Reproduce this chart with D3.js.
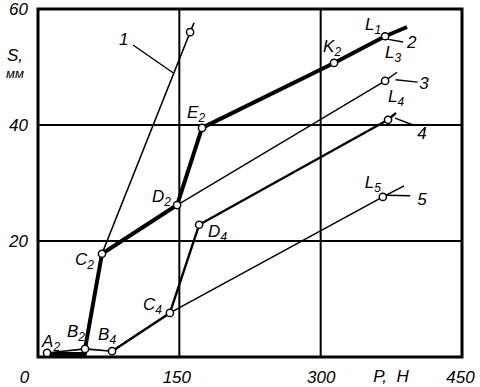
<!DOCTYPE html>
<html>
<head>
<meta charset="utf-8">
<script src="https://cdn.jsdelivr.net/npm/d3@7"></script>
<style>
  body { margin: 0; background: #fff; }
  text { font-family: "Liberation Sans", Arial, sans-serif; font-style: italic; fill: #000; }
</style>
</head>
<body>
<svg id="chart" width="480" height="387"></svg>
<script>
// axis ticks
const xTicks = [0, 150, 300, 450]
const yTicks = [0, 20, 40, 60]

// curves: [P (H), S (mm)]
const curve1 = [[9.6, 0.7], [49.9, 1.4], [67.9, 17.8], [161.4, 56.0], [165.6, 57.6]]
const curve2 = [[9.6, 0.5], [49.9, 0.5], [49.9, 1.4], [67.9, 17.8], [147.6, 26.2], [174.1, 39.5], [314.2, 50.7], [368.4, 55.3], [391.7, 56.9]]
const curve3 = [[67.9, 17.8], [147.6, 26.2], [368.4, 47.6], [381.0, 49.1]]
const curve4 = [[78.6, 1.0], [140.0, 7.6], [171.0, 22.8], [371.5, 40.9], [380.0, 42.1]]
const curve5 = [[49.9, 1.4], [78.6, 1.0], [140.0, 7.6], [366.0, 27.6], [388.5, 29.5]]

// marked points
const markP = [9.6, 49.9, 67.9, 147.6, 174.1, 314.2, 368.4, 161.4, 368.4, 78.6, 140.0, 171.0, 371.5, 366.0]
const markS = [0.7, 1.4, 17.8, 26.2, 39.5, 50.7, 55.3, 56.0, 47.6, 1.0, 7.6, 22.8, 40.9, 27.6]
const markName = ['A', 'B', 'C', 'D', 'E', 'K', 'L', '', 'L', 'B', 'C', 'D', 'L', 'L']
const markSub = ['2', '2', '2', '2', '2', '2', '1', '', '3', '4', '4', '4', '4', '5']
// label offsets from the marker, px
const markDx = [-5, -18, -27, -25, -15, -11, -20, 0, 0, -14, -27, 9, 0, -18]
const markDy = [-6, -12, 11, -3, -10, -11, -6, 0, -23, -11, -3, 12, -18, -9]

// curve numbers with leader lines: [P, S] of text, leader start, leader end
const curveNames = ['1', '2', '3', '4', '5']
const namePos = [[86.0, 53.8], [391.7, 53.3], [404.5, 46.2], [402.5, 37.6], [402.5, 26.2]]
const leaderFrom = [[100.8, 53.8], [387.5, 54.3], [402.9, 47.4], [398.1, 40.0], [395.0, 27.8]]
const leaderTo = [[143.3, 49.0], [370.5, 54.8], [379.6, 47.8], [379.0, 41.2], [370.5, 27.9]]

const svg = d3.select('#chart')
const x = d3.scaleLinear().domain([0, 450]).range([38, 462])
const y = d3.scaleLinear().domain([0, 60]).range([357, 9])

// grid
svg.append('g')
  .selectAll('line.gx')
  .data(xTicks.slice(1, -1))
  .join('line')
  .attr('x1', d => x(d)).attr('x2', d => x(d))
  .attr('y1', y(0)).attr('y2', y(60))
  .attr('stroke', '#000').attr('stroke-width', 2)

svg.append('g')
  .selectAll('line.gy')
  .data(yTicks.slice(1, -1))
  .join('line')
  .attr('y1', d => y(d)).attr('y2', d => y(d))
  .attr('x1', x(0)).attr('x2', x(450))
  .attr('stroke', '#000').attr('stroke-width', 2)

// frame
svg.append('rect')
  .attr('x', x(0)).attr('y', y(60))
  .attr('width', x(450) - x(0)).attr('height', y(0) - y(60))
  .attr('fill', 'none').attr('stroke', '#000').attr('stroke-width', 3)

// tick labels
const xAxis = svg.append('g')
  .attr('transform', `translate(0,${y(0)})`)
  .call(d3.axisBottom(x).tickValues(xTicks).tickSize(0).tickPadding(14).tickFormat(d3.format('d')))
xAxis.select('.domain').remove()
xAxis.selectAll('text')
  .attr('font-size', 17).attr('font-family', null)
  .attr('dx', d => d === 0 ? -14 : (d === 150 ? -3 : (d === 450 ? -2 : 0)))

const yAxis = svg.append('g')
  .attr('transform', `translate(${x(0)},0)`)
  .call(d3.axisLeft(y).tickValues(yTicks.slice(1)).tickSize(0).tickPadding(10).tickFormat(d3.format('d')))
yAxis.select('.domain').remove()
yAxis.selectAll('text').attr('font-size', 17).attr('font-family', null)

// axis titles
svg.append('text').attr('x', 391).attr('y', 382).attr('text-anchor', 'middle')
  .attr('font-size', 17).attr('xml:space', 'preserve').text('P,  H')
svg.append('text').attr('x', 15).attr('y', 61).attr('text-anchor', 'middle')
  .attr('font-size', 17).text('S,')
svg.append('text').attr('x', 15).attr('y', 78).attr('text-anchor', 'middle')
  .attr('font-size', 13).text('мм')

// curves
const line = d3.line().x(d => x(d[0])).y(d => y(d[1]))
const curves = [
  { data: curve1, w: 1.6 },
  { data: curve3, w: 1.4 },
  { data: curve5, w: 1.6 },
  { data: curve4, w: 2.4 },
  { data: curve2, w: 4 },
]
svg.append('g')
  .selectAll('path')
  .data(curves)
  .join('path')
  .attr('d', d => line(d.data))
  .attr('fill', 'none')
  .attr('stroke', '#000')
  .attr('stroke-width', d => d.w)
  .attr('stroke-linejoin', 'round')

// leader lines + curve numbers
svg.append('g')
  .selectAll('line')
  .data(curveNames)
  .join('line')
  .attr('x1', (d, i) => x(leaderFrom[i][0])).attr('y1', (d, i) => y(leaderFrom[i][1]))
  .attr('x2', (d, i) => x(leaderTo[i][0])).attr('y2', (d, i) => y(leaderTo[i][1]))
  .attr('stroke', '#000').attr('stroke-width', 1.4)

svg.append('g')
  .selectAll('text')
  .data(curveNames)
  .join('text')
  .attr('x', (d, i) => x(namePos[i][0]))
  .attr('y', (d, i) => y(namePos[i][1]))
  .attr('font-size', 17)
  .text(d => d)

// markers
const marks = markP.map((p, i) => ({ p, s: markS[i], name: markName[i], sub: markSub[i], dx: markDx[i], dy: markDy[i] }))
svg.append('g')
  .selectAll('circle')
  .data(marks)
  .join('circle')
  .attr('cx', d => x(d.p)).attr('cy', d => y(d.s))
  .attr('r', 3.6)
  .attr('fill', '#fff').attr('stroke', '#000').attr('stroke-width', 1.5)

const labels = svg.append('g')
  .selectAll('text')
  .data(marks.filter(d => d.name))
  .join('text')
  .attr('x', d => x(d.p) + d.dx)
  .attr('y', d => y(d.s) + d.dy)
  .attr('font-size', 17)
labels.append('tspan').text(d => d.name)
labels.append('tspan').attr('dy', 4).attr('font-size', 12).text(d => d.sub)
</script>
</body>
</html>
